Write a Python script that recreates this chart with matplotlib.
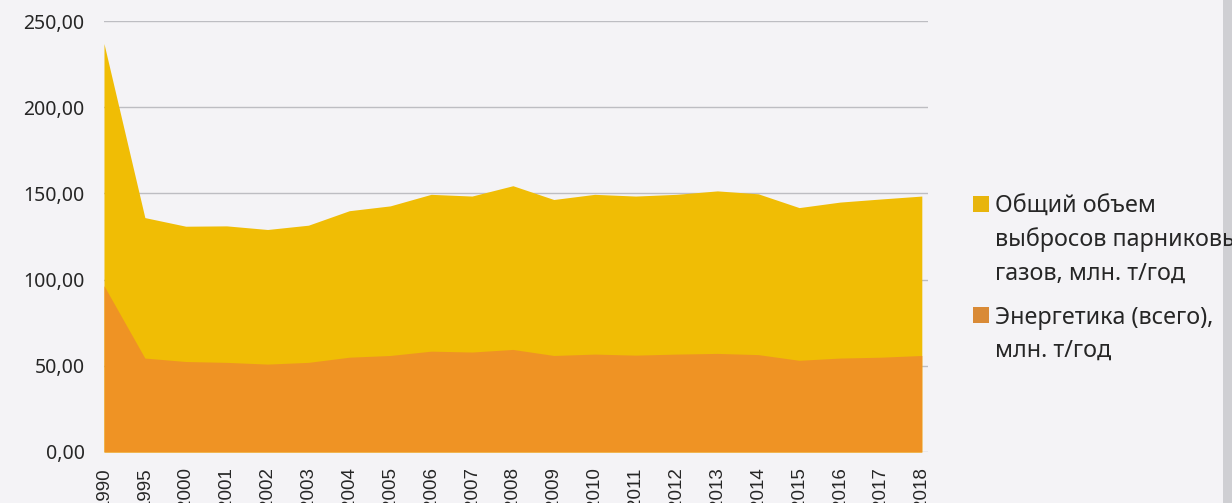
import matplotlib
matplotlib.use('Agg')
import matplotlib.pyplot as plt
import numpy as np
from matplotlib.ticker import FuncFormatter
from matplotlib.patches import Rectangle

years = ['1990', '1995', '2000', '2001', '2002', '2003', '2004', '2005', '2006', '2007',
         '2008', '2009', '2010', '2011', '2012', '2013', '2014', '2015', '2016', '2017', '2018']
total = [237.0, 136.0, 131.0, 131.2, 129.1, 131.6, 140.0, 142.8, 149.5, 148.5,
         154.5, 146.5, 149.5, 148.5, 149.5, 151.5, 149.8, 141.8, 145.0, 146.8, 148.5]
energy = [96.5, 54.5, 52.5, 52.0, 51.0, 52.0, 55.0, 56.0, 58.5, 58.0,
          59.5, 56.0, 56.8, 56.2, 56.8, 57.2, 56.5, 53.2, 54.5, 55.0, 56.0]
labels = ['Общий объем\nвыбросов парниковых\nгазов, млн. т/год',
          'Энергетика (всего),\nмлн. т/год']

bg = '#f4f3f6'
c_total = '#f0bd05'
c_energy = '#ef9324'
txt = '#262626'

W, H = 1232.0, 503.0
f = plt.figure(figsize=(12.32, 5.03), dpi=100, facecolor=bg)
ax = f.add_axes([0.0844, 0.1014, 0.6688, 0.8566])
ax.set_facecolor(bg)

x = np.arange(len(years))
ax.fill_between(x, 0, total, color=c_total, lw=0, zorder=2)
ax.fill_between(x, 0, energy, color=c_energy, lw=0, zorder=3)

ax.set_xlim(0, len(years) - 1 + 0.15)
ax.set_ylim(0, 250)
ax.set_yticks(np.arange(0, 251, 50))
ax.yaxis.set_major_formatter(FuncFormatter(lambda v, p: ('%.2f' % v).replace('.', ',')))
ax.grid(axis='y', color='#bdbdc2', lw=1.0, zorder=1)
ax.set_xticks(x)
ax.set_xticklabels(years, rotation=90, va='top', ha='center',
                   family=['Liberation Sans', 'DejaVu Sans'], fontsize=13.5, color=txt)
for t in ax.get_yticklabels():
    t.set_family(['Noto Sans', 'DejaVu Sans'])
    t.set_fontsize(14)
    t.set_color(txt)
ax.tick_params(axis='both', length=0)
ax.tick_params(axis='x', pad=11)
ax.tick_params(axis='y', pad=14)
for s in ax.spines.values():
    s.set_visible(False)

# scanner edge on the right
f.patches.append(Rectangle((1223 / W, 0), 9 / W, 1, transform=f.transFigure,
                           facecolor='#cfcfd3', edgecolor='none', zorder=0))

# legend drawn by hand: marker sits on the first text line
handle_cols = ['#e8b50c', '#d98a36']
first_base = [212.5, 323.5]
line_step = 33.5
for lab, col, yb in zip(labels, handle_cols, first_base):
    f.patches.append(Rectangle((973 / W, 1 - (yb - 1) / H), 16 / W, 16 / H,
                               transform=f.transFigure, facecolor=col,
                               edgecolor='none', zorder=2))
    for i, line in enumerate(lab.split('\n')):
        f.text(995 / W, 1 - (yb + i * line_step) / H, line, va='baseline', ha='left',
               fontsize=16.8, color=txt, family=['Noto Sans', 'DejaVu Sans'], zorder=3)

plt.savefig('out.png', dpi=100, facecolor=bg)
